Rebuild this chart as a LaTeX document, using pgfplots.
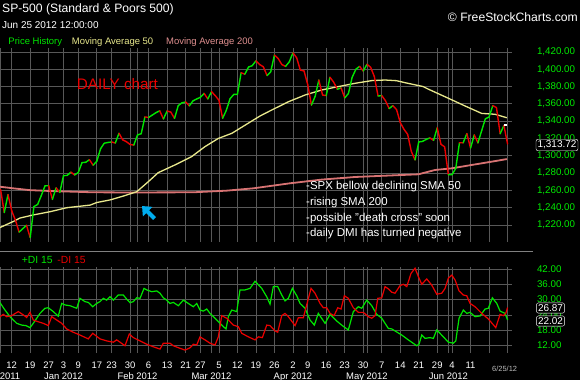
\documentclass[border=0pt]{standalone}
\usepackage{fontspec}
\setmainfont{Liberation Sans}
\usepackage{pgfplots}
\pgfplotsset{compat=1.18}
\usepackage{pgfplotstable}
\usetikzlibrary{arrows.meta}

\definecolor{upg}{RGB}{0,230,0}
\definecolor{dnr}{RGB}{235,0,0}
\definecolor{ma50}{RGB}{232,232,140}
\definecolor{ma200}{RGB}{215,115,115}
\definecolor{gridc}{RGB}{88,88,88}
\definecolor{lblg}{RGB}{0,235,0}

% price: i = trading-day index (0 = Dec 12 2011), p = close, u = 1 if next close is higher
\pgfplotstableread{
i p u
-3 1261.0 0
-2 1234.4 1
-1 1255.2 0
0 1236.5 0
1 1225.7 0
2 1211.8 1
3 1215.8 1
4 1219.7 0
5 1205.4 1
6 1241.3 1
7 1243.7 1
8 1254.0 1
9 1265.3 1
10 1265.4 0
11 1249.6 1
12 1263.0 0
13 1257.6 1
14 1277.1 1
15 1277.3 1
16 1281.1 0
17 1277.8 1
18 1280.7 1
19 1292.1 1
20 1292.5 1
21 1295.5 0
22 1289.1 1
23 1293.7 1
24 1308.0 1
25 1314.5 1
26 1315.4 1
27 1316.0 0
28 1314.7 1
29 1326.1 0
30 1318.4 0
31 1316.3 0
32 1313.0 0
33 1312.4 1
34 1324.1 1
35 1325.5 1
36 1344.9 0
37 1344.3 1
38 1347.1 1
39 1349.9 1
40 1352.0 0
41 1342.6 1
42 1351.8 0
43 1350.5 0
44 1343.2 1
45 1358.0 1
46 1361.2 1
47 1362.2 0
48 1357.7 1
49 1363.5 1
50 1365.7 1
51 1367.6 1
52 1372.2 0
53 1365.7 1
54 1374.1 0
55 1369.6 0
56 1364.3 0
57 1343.4 1
58 1352.6 1
59 1365.9 1
60 1370.9 1
61 1371.1 1
62 1396.0 0
63 1394.3 1
64 1402.6 1
65 1404.2 1
66 1409.8 0
67 1405.5 0
68 1402.9 0
69 1392.8 1
70 1397.1 1
71 1416.5 0
72 1412.5 0
73 1405.5 0
74 1403.3 1
75 1408.5 1
76 1419.0 0
77 1413.4 0
78 1399.0 0
79 1398.1 0
80 1382.2 0
81 1358.6 1
82 1368.7 1
83 1387.6 0
84 1370.3 0
85 1369.6 1
86 1390.8 0
87 1385.1 0
88 1376.9 1
89 1378.5 0
90 1366.9 1
91 1372.0 1
92 1390.7 1
93 1400.0 1
94 1403.4 0
95 1397.9 1
96 1405.8 0
97 1402.3 0
98 1391.6 0
99 1369.1 1
100 1369.6 0
101 1363.7 0
102 1354.6 1
103 1358.0 0
104 1353.4 0
105 1338.4 0
106 1330.7 0
107 1324.8 0
108 1304.9 0
109 1295.2 1
110 1316.0 1
111 1316.6 1
112 1318.9 1
113 1320.7 0
114 1317.8 1
115 1332.4 0
116 1313.3 0
117 1310.3 0
118 1278.0 1
119 1278.2 1
120 1285.5 1
121 1315.1 0
122 1315.0 1
123 1325.7 0
124 1308.9 1
125 1324.2 0
126 1314.9 1
127 1329.1 1
128 1342.8 1
129 1344.8 1
130 1358.0 0
131 1355.7 0
132 1325.5 1
133 1335.0 0
134 1313.7 0
}\price

\pgfplotstableread{
i v
-3.2 1217.0
0.4 1224.0
2.2 1228.0
5.8 1231.6
10.4 1235.4
14.9 1240.0
21.2 1243.0
23.0 1246.0
26.6 1249.0
30.2 1253.5
33.8 1258.5
36.9 1270.0
39.6 1280.5
44.1 1289.4
48.6 1299.0
52.2 1310.5
55.8 1320.0
59.5 1326.0
63.9 1337.6
67.1 1346.0
70.3 1353.0
74.8 1362.5
79.3 1370.3
83.8 1376.1
88.3 1380.0
92.8 1383.8
97.3 1386.9
100.9 1387.6
104.0 1386.8
106.3 1384.5
111.2 1380.0
112.6 1377.0
118.0 1366.5
122.5 1357.6
127.0 1349.0
130.6 1348.0
133.8 1344.0
}\maFifty

\pgfplotstableread{
i v
-3.2 1264.3
0.4 1262.4
4.9 1260.3
10.4 1259.3
22.0 1257.8
32.0 1257.6
49.1 1257.8
58.1 1259.7
65.3 1262.4
75.2 1268.2
83.8 1272.5
92.8 1275.5
100.9 1277.0
109.9 1278.6
114.4 1283.6
118.9 1285.5
124.3 1289.4
129.7 1293.2
133.8 1296.2
}\maTwo

\pgfplotstableread{
x v
-3.16 28.8
-1.81 25.9
-0.46 23.3
1.35 20.7
2.70 20.0
3.86 19.8
4.95 19.0
5.84 20.7
7.65 24.6
9.00 26.6
9.89 26.8
11.24 25.3
12.59 23.5
13.51 28.5
14.41 27.9
15.76 27.6
17.57 26.6
18.46 30.5
19.81 29.2
20.70 28.9
21.89 27.2
22.97 28.5
23.86 29.2
24.76 30.5
25.68 29.8
26.57 31.1
27.46 29.8
28.81 31.8
30.16 31.8
30.89 30.5
31.97 28.8
32.86 29.2
33.78 30.7
34.68 30.5
35.76 34.4
36.49 33.8
37.84 33.1
39.19 33.4
40.08 32.5
40.97 30.7
41.89 29.8
42.78 28.5
43.68 28.9
45.03 27.6
46.38 29.8
47.73 28.5
49.08 27.2
50.00 28.5
50.89 25.9
51.78 25.5
52.70 26.3
53.59 24.6
54.95 22.7
56.30 20.7
57.19 19.4
57.92 18.5
58.54 23.3
59.46 25.9
60.81 25.3
61.70 33.8
63.05 33.8
64.41 34.4
65.76 37.2
67.57 34.4
68.92 31.1
69.81 28.2
70.70 35.1
71.89 35.1
72.97 31.8
73.86 29.5
74.76 30.5
75.84 34.4
77.03 31.5
77.92 28.5
79.27 26.6
80.62 22.0
81.78 20.0
82.86 24.6
84.68 20.7
86.03 24.2
87.84 21.6
89.35 19.8
90.97 18.1
92.32 25.3
93.68 27.2
94.59 26.6
95.95 29.8
97.30 27.6
98.65 24.2
100.00 22.7
101.78 18.7
102.70 18.5
105.41 16.1
107.19 14.2
109.46 11.9
110.08 12.5
110.81 16.1
111.70 14.8
113.05 15.1
113.95 14.8
114.86 18.1
116.65 15.4
118.00 13.3
119.35 12.9
120.00 13.8
120.89 22.7
122.05 25.9
122.97 24.6
123.86 25.0
125.22 23.3
126.57 23.6
127.92 26.3
128.81 26.6
129.89 30.7
131.08 28.5
131.97 25.5
133.32 24.6
134.00 22.0
}\dip

\pgfplotstableread{
x v
-3.16 23.3
-2.27 24.2
-1.35 23.3
0.00 23.7
1.78 25.3
3.14 24.0
4.05 23.0
4.95 25.0
5.84 22.0
7.19 21.3
8.54 20.7
9.89 19.8
10.81 23.3
12.16 22.0
13.51 20.7
14.86 18.5
16.65 17.2
18.46 16.1
20.70 14.6
21.89 16.8
23.86 14.6
25.68 13.8
27.46 13.3
28.38 14.2
29.27 13.3
30.62 11.9
31.78 16.5
32.86 15.1
34.68 13.8
36.49 12.5
38.27 11.5
40.08 10.6
40.97 12.9
42.78 12.9
43.68 11.9
45.49 10.9
46.84 10.2
48.19 11.1
49.08 12.5
50.00 12.2
50.89 15.4
52.24 14.2
53.59 12.9
54.95 12.2
55.84 15.4
56.76 23.7
58.11 22.7
59.89 20.0
61.24 19.4
62.16 16.8
63.95 15.4
65.76 14.2
66.65 15.4
67.73 15.1
68.92 20.0
69.81 19.8
71.16 17.7
71.89 17.2
72.97 23.7
73.86 24.6
74.76 23.3
76.57 19.8
77.46 22.9
78.81 22.9
80.89 34.4
81.97 32.5
83.32 28.5
84.22 26.8
85.14 26.8
86.03 24.6
87.11 23.7
88.11 26.8
89.00 26.3
89.89 31.5
90.97 30.5
92.32 26.8
93.68 25.0
95.03 25.0
96.38 23.3
97.30 22.7
98.19 23.7
98.92 30.5
100.00 30.7
100.89 35.1
101.78 34.2
102.70 32.9
103.59 32.5
104.95 35.5
105.84 36.0
106.76 35.1
107.92 40.3
109.00 42.3
109.89 39.0
110.81 36.0
112.16 38.1
113.51 35.7
114.86 32.1
116.22 32.5
117.11 34.4
118.00 38.4
118.92 39.6
119.81 37.7
120.89 33.4
122.05 31.8
122.97 31.5
123.86 28.5
125.22 27.2
127.03 24.6
128.81 22.4
130.81 19.0
131.97 24.2
132.86 23.7
133.51 24.6
134.00 26.9
}\dim

\pgfplotsset{chartbase/.style={
  scale only axis, width=512bp, xmin=-3.16, xmax=135.2,
  at={(0bp,0bp)}, anchor=south west,
  axis line style={draw=none}, major tick length=0pt, tick style={draw=none},
  xtick={0,5,10,14,18,23,27,32,37,42,47,51,56,61,66,71,76,80,85,90,95,100,105,110,115,119,124,129,134},
  extra x ticks={-3.1,14,34,54,76,96,118},
  extra x tick style={grid=major},
  xmajorgrids=true, ymajorgrids=true,
  grid style={gridc, line width=0.8bp},
  yticklabel pos=right,
  scaled y ticks=false,
  yticklabel style={/pgf/number format/fixed, /pgf/number format/fixed zerofill,
    /pgf/number format/precision=2, /pgf/number format/1000 sep={,},
    /pgf/number format/assume math mode=true,
    anchor=west, xshift=21.5bp, text=lblg, font=\fontsize{9.8}{10}\selectfont},
}}

\begin{document}
\begin{tikzpicture}[x=1bp,y=1bp]
\fill[black] (0,0) rectangle (580,380);

\begin{scope}[yshift=138bp]
\begin{axis}[chartbase, height=194bp,
  ymin=1200.35, ymax=1424.6, ytick={1220,1240,...,1420},
  xticklabels={}, extra x tick labels={},
  colormap={updn}{rgb255=(235,0,0) rgb255=(0,230,0)},
  point meta min=0, point meta max=1]
\addplot[ma200, line width=1.8bp] table[x=i,y=v] {\maTwo};
\addplot[ma50, line width=1.3bp] table[x=i,y=v] {\maFifty};
\addplot[mesh, shader=flat corner, point meta=\thisrow{u}, line width=1.4bp, line cap=round] table[x=i,y=p] {\price};
\addplot[white, line width=1.3bp] coordinates {(132.9,1335.6) (133.9,1335.6)};
\end{axis}
\end{scope}

\begin{scope}[yshift=27bp]
\begin{axis}[chartbase, height=86bp,
  ymin=9.06, ymax=42.78, ytick={12,18,...,42},
  xticklabels={12,19,27,3,9,17,23,30,6,13,21,27,5,12,19,26,2,9,16,23,30,7,14,21,29,4,11,{},{}},
  extra x tick labels={Dec 2011,Jan 2012,Feb 2012,Mar 2012,Apr 2012,May 2012,Jun 2012},
  xticklabel style={anchor=base, yshift=-15.5bp, text=white, font=\fontsize{9.5}{10}\selectfont},
  extra x tick style={grid=major, tick label style={yshift=-10.5bp}}]
\addplot[upg, line width=1.2bp] table[x=x,y=v] {\dip};
\addplot[dnr, line width=1.2bp] table[x=x,y=v] {\dim};
\end{axis}
\end{scope}

% separator
\draw[gray, line width=0.8bp] (0,128.5) -- (533,128.5);

% header texts
\node[anchor=west, inner sep=0, text=white, font=\fontsize{12.2}{14}\selectfont] at (2,370.5) {SP-500 (Standard \& Poors 500)};
\node[anchor=west, inner sep=0, text=white, font=\fontsize{10}{12}\selectfont] at (2,354.5) {Jun 25 2012 12:00:00};
\node[anchor=east, inner sep=0, text=white, font=\fontsize{12.2}{14}\selectfont] at (578,363) {© FreeStockCharts.com};
\node[anchor=west, inner sep=0, text=upg, font=\fontsize{9.5}{11}\selectfont] at (8.3,337.5) {Price History};
\node[anchor=west, inner sep=0, text=ma50, font=\fontsize{9.5}{11}\selectfont] at (71.7,337.5) {Moving Average 50};
\node[anchor=west, inner sep=0, text=ma200!80!white, font=\fontsize{9.5}{11}\selectfont] at (166,337.5) {Moving Average 200};

% annotations
\node[anchor=west, inner sep=0, text=dnr, font=\fontsize{15.3}{17}\selectfont] at (76.7,295.5) {DAILY chart};
\node[anchor=west, inner sep=0, text=white, font=\fontsize{11.5}{13}\selectfont] at (306,193.3) {-SPX bellow declining SMA 50};
\node[anchor=west, inner sep=0, text=white, font=\fontsize{11.5}{13}\selectfont] at (306,177.7) {-rising SMA 200};
\node[anchor=west, inner sep=0, text=white, font=\fontsize{11.5}{13}\selectfont] at (306,161.7) {-possible "death cross" soon};
\node[anchor=west, inner sep=0, text=white, font=\fontsize{11.5}{13}\selectfont] at (306,146.7) {-daily DMI has turned negative};
\draw[cyan, line width=4bp, -{Triangle[length=8bp,width=13bp]}] (154.5,161.5) -- (142,174);

% DMI legend
\node[anchor=west, inner sep=0, text=upg, font=\fontsize{10.4}{12}\selectfont] at (21.7,119.7) {+DI 15};
\node[anchor=west, inner sep=0, text=dnr, font=\fontsize{10.4}{12}\selectfont] at (57.3,119.7) {-DI 15};

% last-value boxes
\node[draw=white, rounded corners=2bp, fill=black, text=white, inner sep=1.6bp, font=\fontsize{10}{11}\selectfont] at (557,235) {1,313.72};
\node[draw=white, rounded corners=2bp, fill=black, text=white, inner sep=1.6bp, font=\fontsize{10}{11}\selectfont] at (550.5,72) {26.87};
\node[draw=white, rounded corners=2bp, fill=black, text=white, inner sep=1.6bp, font=\fontsize{10}{11}\selectfont] at (550.5,59) {22.02};

\node[anchor=west, inner sep=0, text=white!75!black, font=\fontsize{7.5}{9}\selectfont] at (492,11) {6/25/12};

\pgfresetboundingbox
\useasboundingbox (0,0) rectangle (580,380);
\end{tikzpicture}
\end{document}
